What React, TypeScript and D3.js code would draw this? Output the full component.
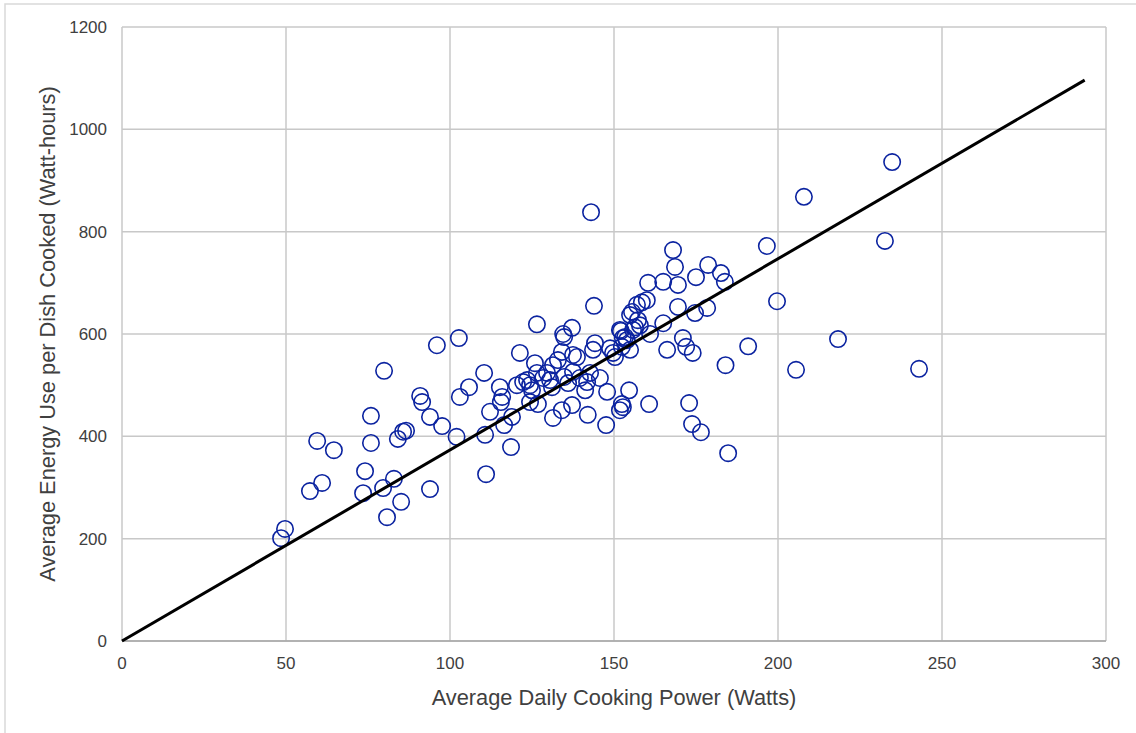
import React from 'react'
import * as d3 from 'd3'

// Average daily cooking power (W) for each household
const powerW = [
  48.5, 49.7, 57.3, 59.5, 61, 64.6, 73.5, 74.1, 75.9, 75.9, 79.6, 79.9, 80.8, 82.9, 84.1, 85.1, 85.7, 86.6,
  90.9, 91.5, 93.9, 93.9, 96, 97.6, 102, 102.7, 103, 105.8, 110.4, 110.7, 111, 112.2, 115.2, 115.9, 115.5,
  116.5, 118.6, 118.9, 120.4, 121.3, 122.3, 123.5, 124.4, 125, 126.5, 125.9, 126.5, 124.4, 126.8, 128.4,
  129.6, 130.5, 131.1, 131.4, 131.4, 132.9, 134.1, 134.5, 134.8, 137.2, 134.1, 136, 134.8, 137.5, 138.7,
  137.5, 139.6, 141.8, 141.2, 137.2, 142, 142.7, 143.6, 144.2, 143.9, 143, 145.7, 147.9, 147.6, 148.8,
  149.7, 150.3, 151.8, 152.4, 152.7, 152.4, 153.9, 152.1, 151.8, 152.7, 153.4, 154.6, 154.9, 154.9, 155.5,
  155.8, 156.4, 157.3, 157.9, 157, 158.5, 160, 160.4, 160.7, 161, 165, 165, 166.2, 168, 168.6, 169.5, 169.5,
  171, 172, 172.9, 173.8, 174, 174.7, 175, 176.5, 178.4, 178.7, 182.6, 183.8, 184, 184.8, 190.9, 196.6,
  199.7, 205.5, 207.9, 218.3, 232.6, 234.8, 243
]

// Average energy use per dish cooked (Wh), same order as powerW
const energyWh = [
  201, 219, 293, 391, 309, 373, 289, 332, 387, 440, 299, 528, 242, 317, 395, 272, 409, 411,
  479, 467, 297, 438, 578, 420, 399, 592, 477, 496, 524, 403, 326, 448, 496, 477, 467,
  422, 379, 438, 500, 563, 506, 510, 500, 490, 619, 543, 524, 467, 463, 514,
  524, 510, 496, 436, 539, 549, 565, 600, 594, 612, 451, 504, 516, 559, 555,
  526, 514, 506, 490, 461, 442, 524, 569, 582, 655, 838, 514, 487, 422, 572,
  563, 555, 451, 463, 457, 575, 588, 606, 608, 592, 594, 490, 569, 637, 643,
  608, 613, 627, 617, 657, 662, 666, 700, 463, 600, 621, 702, 569, 764, 731, 696, 653,
  592, 575, 465, 424, 563, 641, 711, 408, 651, 735, 719, 702, 539, 367, 576, 772,
  664, 530, 868, 590, 782, 936, 532
]

// trend line through the origin
const trendX = [0, 293.5]
const trendSlope = 3.735

const xTicks = [0, 50, 100, 150, 200, 250, 300]
const yTicks = [0, 200, 400, 600, 800, 1000, 1200]

const W = 1136
const H = 733
const margin = { top: 27, right: 30, bottom: 92, left: 122 }
const font = "'Liberation Sans', Arial, sans-serif"
const textColor = '#404040'
const gridColor = '#c8c8c8'

const App = () => {
  const x = d3.scaleLinear().domain([0, 300]).range([margin.left, W - margin.right])
  const y = d3.scaleLinear().domain([0, 1200]).range([H - margin.bottom, margin.top])

  const points = powerW.map((p, i) => ({ p, e: energyWh[i] }))
  const trend = d3
    .line<number>()
    .x((d) => x(d))
    .y((d) => y(d * trendSlope))(trendX)

  return (
    <svg width={W} height={H} style={{ position: 'absolute', left: 0, top: 0, background: '#fff' }}>
      {/* outer chart frame */}
      <rect x={5} y={4} width={W + 10} height={H + 10} fill="none" stroke="#d9d9d9" strokeWidth={1.5} />

      {/* gridlines */}
      {xTicks.map((t) => (
        <line key={'gx' + t} x1={x(t)} x2={x(t)} y1={y(0)} y2={y(1200)} stroke={gridColor} strokeWidth={1.5} />
      ))}
      {yTicks.map((t) => (
        <line key={'gy' + t} x1={x(0)} x2={x(300)} y1={y(t)} y2={y(t)} stroke={gridColor} strokeWidth={1.5} />
      ))}
      <line x1={x(0)} x2={x(300)} y1={y(0)} y2={y(0)} stroke="#a6a6a6" strokeWidth={1.5} />

      {/* tick labels */}
      {yTicks.map((t) => (
        <text key={'ty' + t} x={x(0) - 15} y={y(t)} dy="0.35em" textAnchor="end" fontFamily={font} fontSize={17} fill={textColor}>
          {t}
        </text>
      ))}
      {xTicks.map((t) => (
        <text key={'tx' + t} x={x(t)} y={y(0) + 22} dy="0.35em" textAnchor="middle" fontFamily={font} fontSize={17} fill={textColor}>
          {t}
        </text>
      ))}

      {/* points */}
      {points.map((d, i) => (
        <circle key={i} cx={x(d.p)} cy={y(d.e)} r={8.2} fill="none" stroke="#0b23a0" strokeWidth={1.6} />
      ))}

      {/* trend line */}
      <path d={trend || ''} fill="none" stroke="#000" strokeWidth={3} />

      {/* axis titles */}
      <text x={(x(0) + x(300)) / 2} y={697} dy="0.35em" textAnchor="middle" fontFamily={font} fontSize={21.8} fill={textColor}>
        Average Daily Cooking Power (Watts)
      </text>
      <text
        transform={`translate(47, ${(y(0) + y(1200)) / 2}) rotate(-90)`}
        dy="0.35em"
        textAnchor="middle"
        fontFamily={font}
        fontSize={21.8}
        fill={textColor}
      >
        Average Energy Use per Dish Cooked (Watt-hours)
      </text>
    </svg>
  )
}

export default App
